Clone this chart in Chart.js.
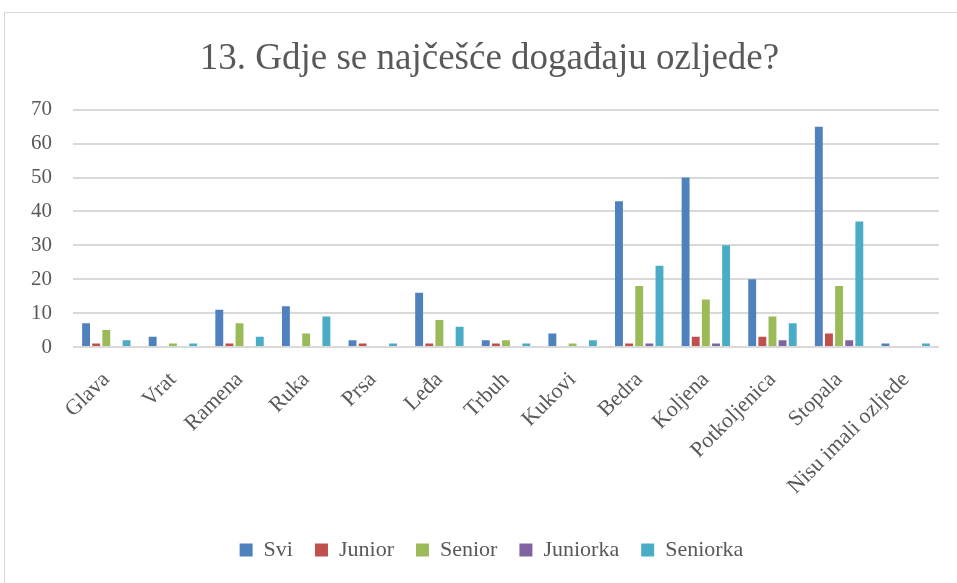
<!DOCTYPE html>
<html>
<head>
<meta charset="utf-8">
<script src="https://cdn.jsdelivr.net/npm/chart.js@4/dist/chart.umd.min.js"></script>
<style>
html,body{margin:0;padding:0;background:#fff;}
#frame{position:absolute;left:4px;top:12px;width:960px;height:580px;border:1px solid #d9d9d9;box-sizing:border-box;}
#wrap{position:absolute;left:0;top:0;width:957px;height:583px;}
</style>
</head>
<body>
<div id="frame"></div>
<div id="wrap"><canvas id="c" width="957" height="583"></canvas></div>
<script>
const categories = ["Glava","Vrat","Ramena","Ruka","Prsa","Leđa","Trbuh","Kukovi","Bedra","Koljena","Potkoljenica","Stopala","Nisu imali ozljede"];
const svi      = [7, 3, 11, 12, 2, 16, 2, 4, 43, 50, 20, 65, 1];
const junior   = [1, 0, 1, 0, 1, 1, 1, 0, 1, 3, 3, 4, 0];
const senior   = [5, 1, 7, 4, 0, 8, 2, 1, 18, 14, 9, 18, 0];
const juniorka = [0, 0, 0, 0, 0, 0, 0, 0, 1, 1, 2, 2, 0];
const seniorka = [2, 1, 3, 9, 1, 6, 1, 2, 24, 30, 7, 37, 1];
const seriesNames = ["Svi","Junior","Senior","Juniorka","Seniorka"];
const yTicks = [0,10,20,30,40,50,60,70];

const colors = ["#4F81BD","#C0504D","#9BBB59","#8064A2","#4BACC6"];
const seriesData = [svi, junior, senior, juniorka, seniorka];
const FONT = "'Liberation Serif', 'DejaVu Serif', serif";
const TXT = "#595959";

const shiftBlocks = {
  id: 'shiftBlocks',
  afterLayout(chart) {
    const lg = chart.legend;
    if (lg) { lg.left += 22; lg.right += 22; }
    const tb = chart.titleBlock;
    if (tb) { tb.left += 20; tb.right += 20; }
  }
};

new Chart(document.getElementById('c'), {
  type: 'bar',
  data: {
    labels: categories,
    datasets: seriesNames.map((n,i)=>({
      label: n,
      data: seriesData[i],
      backgroundColor: colors[i],
      borderWidth: 0,
      categoryPercentage: 0.76,
      barPercentage: 0.78
    }))
  },
  plugins: [shiftBlocks],
  options: {
    responsive: false,
    animation: false,
    layout: { padding: { left: 0, right: 18, top: 0, bottom: 12 } },
    plugins: {
      title: {
        display: true,
        text: "13. Gdje se najčešće događaju ozljede?",
        color: TXT,
        font: { family: FONT, size: 37, weight: 'normal', lineHeight: 1.1 },
        padding: { top: 39, bottom: 30 }
      },
      legend: {
        position: 'bottom',
        labels: {
          color: TXT,
          font: { family: FONT, size: 22 },
          boxWidth: 13, boxHeight: 13,
          padding: 22
        }
      },
      tooltip: { enabled: false }
    },
    scales: {
      x: {
        grid: { display: false, drawTicks: false },
        border: { display: false },
        afterFit: (ax)=>{ ax.height = 170; },
        ticks: {
          color: TXT,
          font: { family: FONT, size: 22 },
          minRotation: 45, maxRotation: 45,
          autoSkip: false,
          padding: 20
        }
      },
      y: {
        min: 0, max: 70,
        afterBuildTicks: (ax)=>{ ax.ticks = yTicks.map(v=>({value:v})); },
        afterFit: (ax)=>{ ax.width = 73; },
        grid: { color: "#d9d9d9", lineWidth: 2, drawTicks: false },
        border: { display: false },
        ticks: {
          color: TXT,
          font: { family: FONT, size: 21 },
          padding: 21
        }
      }
    }
  }
});
</script>
</body>
</html>
